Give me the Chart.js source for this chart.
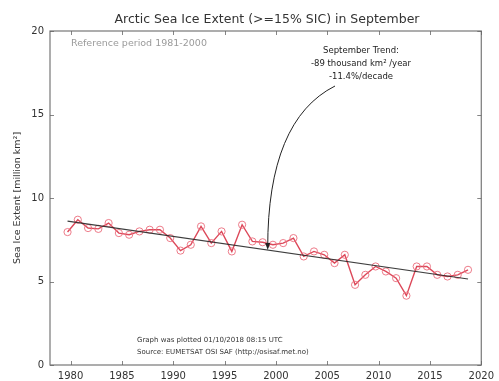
<!DOCTYPE html>
<html>
<head>
<meta charset="utf-8">
<script src="https://cdn.jsdelivr.net/npm/chart.js@4/dist/chart.umd.min.js"></script>
<style>
  html, body { margin: 0; padding: 0; background: #fff; }
  #wrap { width: 499px; height: 381px; }
</style>
</head>
<body>
<div id="wrap"><canvas id="c" width="499" height="381"></canvas></div>
<script>
// September sea ice extent (million km²), OSI SAF
const years = [1979,1980,1981,1982,1983,1984,1985,1986,1987,1988,
               1989,1990,1991,1992,1993,1994,1995,1996,1997,1998,
               1999,2000,2001,2002,2003,2004,2005,2006,2007,2008,
               2009,2010,2011,2012,2013,2014,2015,2016,2017,2018];
const extent = [7.96,8.70,8.20,8.15,8.50,7.90,7.80,8.00,8.10,8.10,
                7.60,6.85,7.20,8.30,7.30,8.00,6.80,8.40,7.40,7.35,
                7.20,7.30,7.60,6.50,6.80,6.60,6.10,6.60,4.80,5.40,
                5.90,5.60,5.20,4.15,5.90,5.90,5.40,5.30,5.40,5.70];

// Linear trend endpoints (million km²)
const trendYears = [1979, 2018];
const trendValues = [8.62, 5.15];

// Points are placed at mid-September of each year
const SEPT = 8.5 / 12;

const xTicks = [1980,1985,1990,1995,2000,2005,2010,2015,2020];
const yTicks = [0,5,10,15,20];

const FONT = "'DejaVu Sans', sans-serif";

const seriesPts = years.map((y, i) => ({ x: y + SEPT, y: extent[i] }));
const trendPts = trendYears.map((y, i) => ({ x: y + SEPT, y: trendValues[i] }));

const decor = {
  id: 'decor',
  afterDraw(chart) {
    const ctx = chart.ctx;
    const xs = chart.scales.x, ys = chart.scales.y;
    const a = chart.chartArea;
    ctx.save();

    // frame
    ctx.strokeStyle = '#777';
    ctx.lineWidth = 1.2;
    ctx.strokeRect(a.left, a.top, a.right - a.left, a.bottom - a.top);

    // inward ticks
    ctx.strokeStyle = '#666';
    ctx.lineWidth = 0.8;
    xTicks.forEach(t => {
      const px = Math.round(xs.getPixelForValue(t)) + 0.5;
      ctx.beginPath();
      ctx.moveTo(px, a.bottom); ctx.lineTo(px, a.bottom - 4);
      ctx.moveTo(px, a.top); ctx.lineTo(px, a.top + 4);
      ctx.stroke();
    });
    yTicks.forEach(t => {
      const py = Math.round(ys.getPixelForValue(t)) + 0.5;
      ctx.beginPath();
      ctx.moveTo(a.left, py); ctx.lineTo(a.left + 4, py);
      ctx.moveTo(a.right, py); ctx.lineTo(a.right - 4, py);
      ctx.stroke();
    });

    // title
    ctx.fillStyle = '#333';
    ctx.font = '12.5px ' + FONT;
    ctx.textAlign = 'center';
    ctx.textBaseline = 'middle';
    ctx.fillText('Arctic Sea Ice Extent (>=15% SIC) in September', 267, 20);

    // reference period
    ctx.fillStyle = '#9a9a9a';
    ctx.font = '9.5px ' + FONT;
    ctx.textAlign = 'left';
    ctx.fillText('Reference period 1981-2000', 71, 44);

    // trend annotation
    ctx.fillStyle = '#222';
    ctx.font = '8.5px ' + FONT;
    ctx.textAlign = 'center';
    ctx.fillText('September Trend:', 361, 51);
    ctx.fillText('-89 thousand km\u00B2 /year', 361, 64);
    ctx.fillText('-11.4%/decade', 361, 77);

    // curved arrow to the trend line
    const tx = 1999.2;
    const tv = trendValues[0] + (trendValues[1] - trendValues[0]) *
               (tx - trendYears[0] - SEPT) / (trendYears[1] - trendYears[0]);
    const ex = xs.getPixelForValue(tx), ey = ys.getPixelForValue(tv);
    ctx.strokeStyle = '#222';
    ctx.lineWidth = 1;
    ctx.beginPath();
    ctx.moveTo(335, 86);
    ctx.quadraticCurveTo(ex, 120, ex, ey - 2);
    ctx.stroke();
    ctx.fillStyle = '#222';
    ctx.beginPath();
    ctx.moveTo(ex, ey);
    ctx.lineTo(ex - 2.5, ey - 7);
    ctx.lineTo(ex + 2.5, ey - 7);
    ctx.closePath();
    ctx.fill();

    // footer
    ctx.fillStyle = '#333';
    ctx.font = '7px ' + FONT;
    ctx.textAlign = 'left';
    ctx.fillText('Graph was plotted 01/10/2018 08:15 UTC', 137, 340);
    ctx.fillText('Source: EUMETSAT OSI SAF (http://osisaf.met.no)', 137, 352);

    ctx.restore();
  }
};

new Chart(document.getElementById('c'), {
  type: 'scatter',
  data: {
    datasets: [
      {
        data: seriesPts,
        showLine: true,
        borderColor: 'rgba(214,40,60,0.85)',
        borderWidth: 1.4,
        pointRadius: 3.6,
        pointBorderWidth: 1,
        pointBorderColor: 'rgba(235,110,125,0.9)',
        pointBackgroundColor: 'rgba(255,255,255,0)',
        order: 2
      },
      {
        data: trendPts,
        showLine: true,
        borderColor: 'rgba(40,40,40,0.9)',
        borderWidth: 1.2,
        pointRadius: 0,
        order: 1
      }
    ]
  },
  options: {
    responsive: false,
    animation: false,
    layout: { padding: { top: 31, right: 14, left: 0, bottom: 0 } },
    plugins: { legend: { display: false }, tooltip: { enabled: false } },
    scales: {
      x: {
        type: 'linear',
        min: 1978, max: 2020,
        afterBuildTicks: s => { s.ticks = xTicks.map(v => ({ value: v })); },
        afterFit: s => { s.height = 16; },
        grid: { display: false, drawTicks: false },
        border: { display: false },
        ticks: {
          padding: 5,
          color: '#333',
          font: { family: FONT, size: 10 },
          maxRotation: 0,
          callback: v => String(v)
        }
      },
      y: {
        min: 0, max: 20,
        afterBuildTicks: s => { s.ticks = yTicks.map(v => ({ value: v })); },
        afterFit: s => { s.width = 50; },
        grid: { display: false, drawTicks: false },
        border: { display: false },
        ticks: {
          padding: 6,
          color: '#333',
          font: { family: FONT, size: 10 }
        },
        title: {
          display: true,
          text: 'Sea Ice Extent [million km\u00B2]',
          color: '#333',
          font: { family: FONT, size: 9.5 },
          padding: { top: 12, bottom: 0 }
        }
      }
    }
  },
  plugins: [decor]
});
</script>
</body>
</html>
